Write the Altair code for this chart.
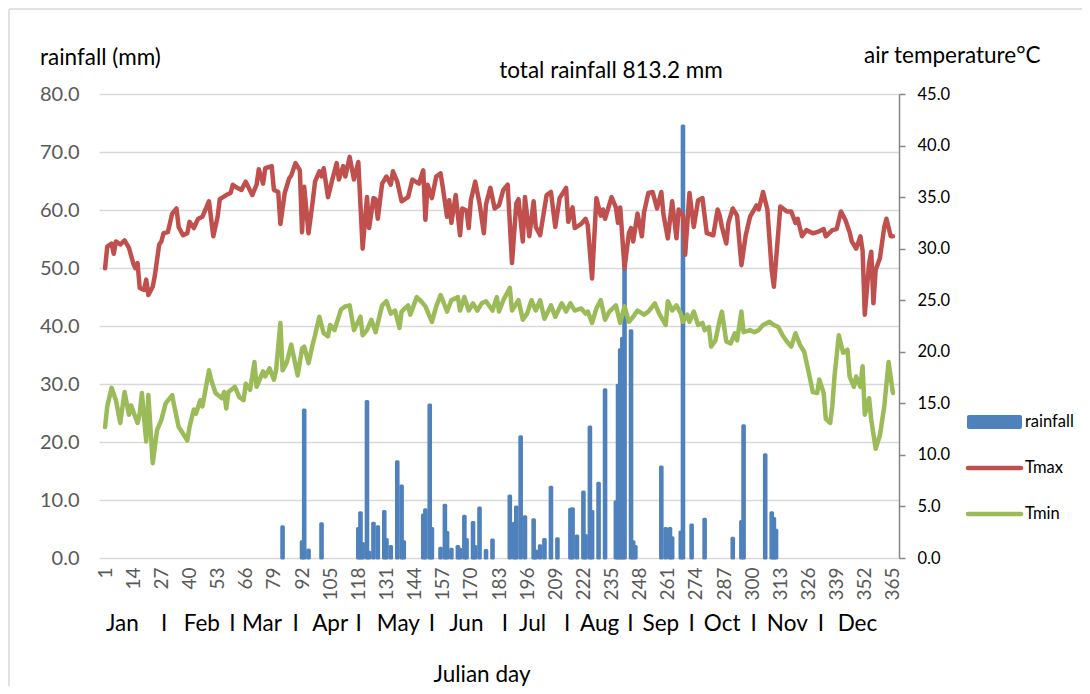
import altair as alt
import pandas as pd

FONT = "Lato"
BLUE = "#4F81BD"
RED = "#C0504D"
GREEN = "#9BBB59"
GRID = "#D9D9D9"

# ---- daily maximum air temperature (deg C)
tmax_day = [1, 2, 4, 5, 6, 8, 10, 12, 14, 15, 16, 17, 19, 20, 21, 23, 24, 26, 27, 28,
            30, 32, 34, 35, 37, 39, 40, 42, 44, 46, 49, 51, 53, 54, 57, 59, 60, 62, 64, 66,
            69, 71, 72, 74, 75, 78, 79, 81, 82, 84, 86, 87, 89, 91, 92, 93, 95, 97, 98, 100,
            101, 102, 104, 106, 108, 109, 111, 112, 114, 116, 118, 120, 122, 123, 125, 126, 127, 129, 131, 133,
            134, 136, 138, 141, 143, 146, 148, 149, 150, 152, 154, 156, 157, 159, 160, 161, 163, 165, 166, 168,
            169, 170, 172, 174, 176, 177, 179, 181, 183, 185, 187, 188, 189, 191, 192, 194, 195, 197, 199, 200,
            202, 205, 207, 209, 211, 214, 215, 217, 218, 221, 223, 224, 226, 228, 230, 231, 232, 235, 237, 238,
            239, 241, 243, 244, 245, 247, 249, 250, 252, 254, 256, 258, 259, 261, 263, 265, 266, 268, 269, 271,
            273, 275, 277, 279, 282, 284, 285, 286, 288, 289, 291, 293, 295, 297, 299, 302, 303, 305, 307, 309,
            310, 312, 313, 316, 318, 320, 321, 323, 325, 328, 330, 333, 334, 337, 339, 341, 343, 345, 346, 348,
            350, 351, 352, 354, 355, 356, 357, 359, 361, 362, 364, 365]
tmax_val = [28.1, 30.2, 30.5, 29.5, 30.7, 30.4, 30.8, 30.1, 28.6, 28.1, 28.6, 26.2, 26.0, 27.0, 25.5, 26.3, 27.4, 30.4, 30.7, 31.5,
            31.6, 33.4, 33.9, 32.1, 31.3, 31.5, 32.6, 32.0, 32.9, 33.1, 34.6, 31.2, 33.1, 34.8, 35.2, 35.4, 36.2, 35.9, 35.7, 36.5,
            35.2, 36.2, 37.7, 36.3, 37.8, 38.0, 35.7, 35.5, 32.4, 35.4, 36.8, 37.1, 38.3, 37.6, 31.6, 36.0, 31.5, 34.7, 36.5, 37.5,
            37.0, 37.8, 35.0, 36.7, 38.3, 36.7, 38.0, 37.0, 38.9, 36.7, 38.4, 30.0, 35.0, 32.0, 34.9, 34.8, 32.9, 36.3, 37.0, 36.2,
            37.5, 36.5, 34.6, 35.0, 36.7, 36.3, 37.6, 32.8, 36.2, 34.9, 37.0, 37.3, 36.0, 33.1, 34.7, 32.5, 35.2, 31.3, 33.9, 33.7,
            32.0, 34.7, 36.5, 34.4, 31.5, 34.3, 35.9, 33.9, 34.2, 35.7, 36.2, 32.5, 28.6, 34.4, 34.8, 30.7, 35.0, 31.2, 34.6, 32.1,
            31.3, 35.2, 35.5, 32.1, 34.9, 35.9, 32.6, 34.0, 32.0, 32.4, 32.9, 32.3, 27.1, 34.9, 33.2, 33.8, 32.9, 35.0, 34.0, 32.5,
            34.0, 28.1, 31.5, 32.0, 30.7, 33.4, 31.2, 33.5, 35.4, 35.5, 33.9, 35.5, 33.3, 31.0, 34.6, 31.0, 33.8, 33.2, 29.4, 35.4,
            32.1, 34.7, 34.9, 31.5, 31.3, 33.8, 33.2, 32.1, 30.5, 32.5, 33.9, 33.2, 28.4, 31.3, 33.1, 34.2, 33.8, 35.5, 33.8, 27.9,
            26.3, 31.5, 34.1, 33.6, 33.6, 32.5, 32.9, 31.2, 31.8, 31.5, 31.6, 31.9, 31.2, 31.8, 31.9, 33.6, 32.8, 31.6, 30.7, 30.0,
            31.2, 29.8, 23.6, 28.6, 29.7, 24.7, 27.9, 29.1, 32.1, 32.9, 31.2, 31.2]

# ---- daily minimum air temperature (deg C)
tmin_day = [1, 2, 4, 6, 8, 10, 12, 13, 16, 17, 18, 20, 21, 23, 25, 27, 29, 32, 33, 35,
            36, 39, 40, 42, 43, 45, 46, 49, 50, 52, 55, 56, 57, 58, 61, 63, 65, 66, 68, 70,
            71, 74, 75, 77, 79, 80, 82, 83, 85, 87, 90, 92, 93, 95, 97, 98, 100, 102, 104, 105,
            107, 110, 112, 114, 116, 119, 120, 122, 124, 126, 129, 131, 133, 135, 137, 138, 141, 142, 145, 147,
            149, 152, 154, 156, 157, 159, 161, 164, 165, 167, 169, 171, 173, 175, 177, 180, 182, 183, 185, 188,
            189, 192, 194, 196, 198, 200, 202, 204, 207, 209, 212, 214, 216, 218, 221, 223, 224, 226, 228, 230,
            232, 234, 237, 239, 241, 243, 245, 247, 250, 252, 255, 257, 260, 261, 263, 265, 267, 268, 270, 271,
            273, 275, 277, 278, 280, 281, 283, 285, 286, 288, 290, 292, 293, 295, 296, 299, 301, 303, 305, 308,
            310, 312, 314, 316, 318, 320, 322, 324, 326, 328, 330, 331, 333, 334, 336, 337, 338, 340, 342, 344,
            345, 347, 348, 350, 351, 352, 354, 355, 357, 359, 361, 363, 365]
tmin_val = [12.7, 14.7, 16.5, 15.3, 13.1, 16.1, 13.9, 14.8, 13.1, 14.0, 16.0, 11.3, 15.8, 9.2, 12.4, 13.4, 15.0, 15.8, 14.7, 12.7,
            12.4, 11.4, 12.7, 14.4, 14.0, 15.3, 14.7, 18.2, 17.3, 16.0, 15.5, 16.1, 14.5, 16.1, 16.6, 15.6, 15.3, 16.9, 16.3, 19.0,
            16.6, 18.1, 17.6, 18.4, 17.3, 18.2, 22.8, 18.2, 19.0, 20.7, 17.7, 20.3, 20.5, 18.9, 20.8, 21.6, 23.4, 21.8, 21.5, 22.6,
            22.1, 24.1, 24.4, 24.5, 22.1, 23.4, 21.6, 22.1, 23.1, 21.9, 24.5, 24.9, 23.7, 24.0, 22.3, 23.9, 24.5, 23.6, 25.3, 24.9,
            24.4, 22.9, 24.4, 25.5, 25.0, 23.9, 25.0, 25.3, 24.0, 25.3, 24.0, 24.7, 24.0, 24.7, 24.9, 24.0, 25.3, 23.9, 25.0, 26.2,
            24.0, 25.0, 23.1, 23.7, 25.0, 24.0, 25.0, 23.2, 24.5, 23.4, 24.7, 23.9, 24.7, 24.0, 24.2, 23.7, 23.9, 22.8, 24.2, 25.0,
            23.1, 23.9, 24.5, 22.8, 24.4, 22.9, 23.4, 24.0, 23.6, 23.9, 24.7, 23.7, 22.6, 24.9, 24.0, 24.5, 23.7, 22.9, 23.6, 22.9,
            23.9, 22.6, 22.8, 22.1, 22.4, 20.5, 21.1, 23.1, 23.9, 21.0, 20.8, 21.8, 21.1, 23.9, 21.9, 22.1, 21.9, 22.1, 22.6, 22.9,
            22.6, 22.4, 21.6, 21.0, 20.5, 21.8, 20.7, 20.0, 18.1, 16.1, 16.0, 17.3, 16.0, 13.5, 13.1, 14.7, 17.6, 21.6, 19.9, 20.2,
            17.6, 16.6, 17.6, 16.6, 18.6, 13.9, 15.5, 13.4, 10.6, 11.9, 14.7, 19.0, 16.0]

# ---- daily rainfall (mm)
rain_day = [83, 92, 93, 95, 101, 118, 119, 120, 122, 123, 125, 127, 130, 131, 133, 136, 138, 139,
            148, 149, 151, 152, 156, 158, 159, 161, 164, 165, 167, 168, 171, 172, 174, 177, 180,
            188, 190, 191, 193, 195, 199, 200, 202, 204, 207, 210,
            216, 217, 219, 222, 223, 225, 226, 229, 232,
            237, 238, 239, 240, 241, 244, 245, 246,
            258, 260, 262, 263, 267, 268, 272, 278,
            291, 295, 296, 306, 309, 310, 311]
rain_mm = [5.4, 2.8, 25.5, 1.4, 5.9, 5.1, 7.8, 2.5, 27.0, 1.0, 6.0, 5.4, 8.0, 3.2, 2.0, 16.6, 12.4, 2.8,
           7.4, 8.3, 26.4, 5.1, 1.7, 9.1, 4.4, 1.5, 2.0, 1.5, 7.2, 3.2, 6.1, 2.0, 8.6, 1.3, 3.1,
           10.7, 6.0, 8.8, 20.9, 7.1, 6.6, 1.2, 2.1, 3.2, 12.2, 3.3,
           8.4, 8.5, 3.8, 11.4, 3.9, 22.6, 8.0, 12.9, 29.0,
           9.7, 29.8, 35.9, 37.9, 50.8, 39.2, 2.8, 2.0,
           15.7, 5.1, 5.1, 3.5, 4.5, 74.5, 5.7, 6.7,
           3.4, 6.3, 22.8, 17.8, 7.8, 6.8, 4.8]

x_ticks = [1, 14, 27, 40, 53, 66, 79, 92, 105, 118, 131, 144, 157, 170, 183, 196, 209, 222,
           235, 248, 261, 274, 287, 300, 313, 326, 339, 352, 365]
rain_ticks = [0, 10, 20, 30, 40, 50, 60, 70, 80]
temp_ticks = [0, 5, 10, 15, 20, 25, 30, 35, 40, 45]

month_labels = ["Jan", "I", "Feb", "I", "Mar", "I", "Apr", "I", "May", "I", "Jun", "I",
                "Jul", "I", "Aug", "I", "Sep", "I", "Oct", "I", "Nov", "I", "Dec"]
month_at_day = [9.0, 28.3, 45.7, 59.8, 73.5, 89.0, 105.0, 118.2, 136.5, 152.0, 167.9, 185.7,
                198.5, 214.5, 229.5, 243.7, 257.8, 272.0, 286.1, 300.7, 316.2, 331.7, 348.6]

rain_df = pd.DataFrame({"day": rain_day, "rain": rain_mm})
temp_df = pd.concat([
    pd.DataFrame({"day": tmax_day, "temp": tmax_val, "series": "Tmax"}),
    pd.DataFrame({"day": tmin_day, "temp": tmin_val, "series": "Tmin"}),
], ignore_index=True)
month_df = pd.DataFrame({"day": month_at_day, "label": month_labels})
one = pd.DataFrame({"k": [0]})

x_enc = alt.X(
    "day:Q",
    scale=alt.Scale(domain=[0.5, 365.5], nice=False, zero=False),
    axis=alt.Axis(values=x_ticks, labelAngle=-90, labelFont=FONT, labelFontSize=19,
                  labelColor="#595959", labelPadding=9, domain=False, ticks=False,
                  grid=False, title=None, labelOverlap=False, labelFlush=False),
)

bars = alt.Chart(rain_df).mark_bar(
    size=1.6, color=BLUE, stroke=BLUE, strokeWidth=3, strokeJoin="round"
).encode(
    x=x_enc,
    y=alt.Y("rain:Q", scale=alt.Scale(domain=[0, 80], nice=False),
            axis=alt.Axis(values=rain_ticks, format=".1f", labelFont=FONT, labelFontSize=20,
                          labelColor="#595959", labelPadding=20, domain=False, ticks=False,
                          grid=True, gridColor=GRID, gridWidth=1.5, title=None)),
)

lines = alt.Chart(temp_df).mark_line(
    strokeWidth=4.5, strokeJoin="round", strokeCap="round"
).encode(
    x=x_enc,
    y=alt.Y("temp:Q", scale=alt.Scale(domain=[0, 45], nice=False),
            axis=alt.Axis(orient="right", values=temp_ticks, format=".1f", labelFont=FONT,
                          labelFontSize=16.5, labelColor="#000000", labelPadding=12,
                          domain=True, domainColor="#868686", domainWidth=1.5,
                          ticks=True, tickColor="#868686", tickSize=6, tickWidth=1.5,
                          grid=False, title=None)),
    color=alt.Color("series:N", scale=alt.Scale(domain=["Tmax", "Tmin"], range=[RED, GREEN]),
                    legend=None),
)

months = alt.Chart(month_df).mark_text(
    font=FONT, fontSize=22.5, color="#000000", baseline="middle", align="center"
).encode(x=x_enc, y=alt.value(530), text="label:N")


def label(txt, x, y, size, align="left", color="#000000"):
    return alt.Chart(one).mark_text(
        font=FONT, fontSize=size, color=color, align=align, baseline="middle"
    ).encode(x=alt.value(x), y=alt.value(y), text=alt.value(txt))


texts = [
    label("rainfall (mm)", -59, -36, 22.5),
    label("total rainfall 813.2 mm", 512, -23, 22.5, align="center"),
    label("air temperature°C", 765, -38, 22.5),
    label("Julian day", 383, 581, 22.5, align="center"),
    label("rainfall", 926, 328, 16.5),
    label("Tmax", 926, 374, 16.5),
    label("Tmin", 926, 420, 16.5),
]

leg_rain = alt.Chart(one).mark_rect(color=BLUE, cornerRadius=2).encode(
    x=alt.value(868), x2=alt.value(923), y=alt.value(321), y2=alt.value(335))
leg_tmax = alt.Chart(one).mark_rule(color=RED, strokeWidth=4.5, strokeCap="round").encode(
    x=alt.value(869), x2=alt.value(922), y=alt.value(374))
leg_tmin = alt.Chart(one).mark_rule(color=GREEN, strokeWidth=4.5, strokeCap="round").encode(
    x=alt.value(869), x2=alt.value(922), y=alt.value(420))

frame_top = alt.Chart(one).mark_rule(color=GRID, strokeWidth=1.5).encode(
    x=alt.value(-90), x2=alt.value(1200), y=alt.value(-85))
frame_left = alt.Chart(one).mark_rule(color=GRID, strokeWidth=1.5).encode(
    x=alt.value(-90), y=alt.value(-85), y2=alt.value(800))

chart = alt.layer(
    bars, lines, months, leg_rain, leg_tmax, leg_tmin, frame_top, frame_left, *texts
).resolve_scale(y="independent").properties(
    width=800, height=464,
    autosize=alt.AutoSizeParams(type="none"),
    padding={"left": 91, "top": 86, "right": 183, "bottom": 128},
    background="white",
).configure_view(stroke=None)

chart.save("out.html", embed_options={"renderer": "svg", "actions": False})
